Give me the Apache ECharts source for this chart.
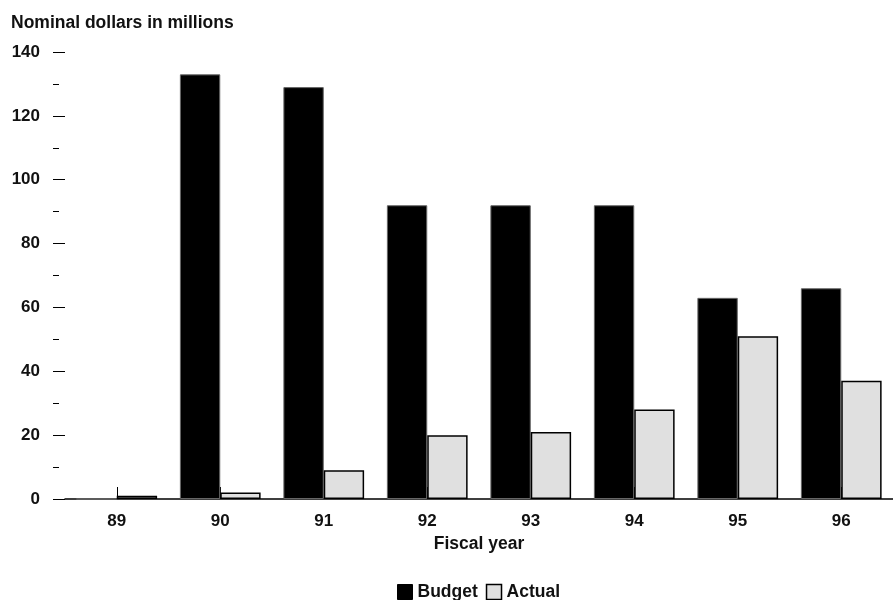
<!DOCTYPE html>
<html>
<head>
<meta charset="utf-8">
<script src="https://cdn.jsdelivr.net/npm/echarts@6/dist/echarts.min.js"></script>
<style>html,body{margin:0;padding:0;background:#fff}#c{width:893px;height:600px}</style>
</head>
<body>
<div id="c"></div>
<script>
const categories = ['89', '90', '91', '92', '93', '94', '95', '96'];
const budget = [0, 133, 129, 92, 92, 92, 63, 66];
const actual = [1, 2, 9, 20, 21, 28, 51, 37];
const yTicks = [0, 20, 40, 60, 80, 100, 120, 140];

const FONT = 'Liberation Sans, Arial, sans-serif';
const chart = echarts.init(document.getElementById('c'), null, {renderer: 'canvas'});
chart.setOption({
  animation: false,
  backgroundColor: '#fff',
  title: {
    text: 'Nominal dollars in millions',
    left: 6, top: 9,
    textStyle: {fontFamily: FONT, fontWeight: 'bold', fontSize: 17.5, color: '#111'}
  },
  legend: {
    data: [
      {name: 'Budget', itemStyle: {color: '#000', borderColor: '#000', borderWidth: 1}},
      {name: 'Actual', itemStyle: {color: '#e0e0e0', borderColor: '#000', borderWidth: 1.5}}
    ],
    icon: 'rect',
    left: 392, top: 578,
    itemWidth: 15, itemHeight: 15, itemGap: 8,
    textStyle: {fontFamily: FONT, fontWeight: 'bold', fontSize: 17.5, color: '#111'}
  },
  grid: {left: 65, right: 0, top: 52, bottom: 101},
  xAxis: {
    type: 'category',
    data: categories,
    name: 'Fiscal year',
    nameLocation: 'middle',
    nameGap: 36,
    nameTextStyle: {fontFamily: FONT, fontWeight: 'bold', fontSize: 17.5, color: '#111'},
    axisLine: {lineStyle: {color: '#000', width: 1.5}},
    axisTick: {show: true, alignWithLabel: true, inside: true, length: 12, lineStyle: {color: '#000', width: 1}},
    axisLabel: {fontFamily: FONT, fontWeight: 'bold', fontSize: 17, color: '#111', margin: 14}
  },
  yAxis: [{
    type: 'value', min: 0, max: 140, interval: 20,
    axisLine: {show: false},
    axisTick: {show: true, length: 12, lineStyle: {color: '#000', width: 1}},
    splitLine: {show: false},
    axisLabel: {fontFamily: FONT, fontWeight: 'bold', fontSize: 17, color: '#111', margin: 25,
      formatter: v => yTicks.includes(v) ? String(v) : ''}
  }, {
    type: 'value', min: 0, max: 140, interval: 10, position: 'left', offset: 6,
    axisLine: {show: false},
    axisTick: {show: true, length: 6, lineStyle: {color: '#000', width: 1}},
    splitLine: {show: false},
    axisLabel: {show: false}
  }],
  series: [{
    name: 'Budget', type: 'bar', data: budget, yAxisIndex: 0,
    barGap: '0%', barCategoryGap: '22%',
    itemStyle: {color: '#000', borderColor: '#666', borderWidth: 1}
  }, {
    name: 'Actual', type: 'bar', data: actual, yAxisIndex: 0,
    itemStyle: {color: '#e0e0e0', borderColor: '#000', borderWidth: 1.5}
  }]
});
</script>
</body>
</html>
